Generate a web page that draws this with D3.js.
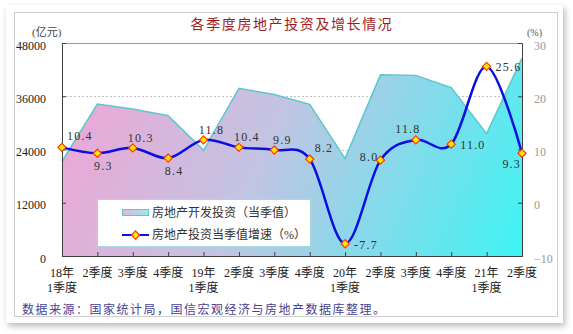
<!DOCTYPE html>
<html><head><meta charset="utf-8">
<script src="https://cdn.jsdelivr.net/npm/d3@7"></script>
<style>
html,body{margin:0;padding:0;background:#ffffff;}
svg{display:block;}
</style></head>
<body>
<svg id="chart" width="573" height="334"></svg>
<script>
// ---- data ----
const categories = [["18年","1季度"],["2季度"],["3季度"],["4季度"],["19年","1季度"],["2季度"],["3季度"],["4季度"],["20年","1季度"],["2季度"],["3季度"],["4季度"],["21年","1季度"],["2季度"]];
const investment = [21292, 34239, 33119, 31614, 23803, 37806, 36399, 34186, 21963, 40817, 40704, 37959, 27576, 44603];
const growth = [10.4, 9.3, 10.3, 8.4, 11.8, 10.4, 9.9, 8.2, -7.7, 8.0, 11.8, 11.0, 25.6, 9.3];
const growthLabels = ["10.4","9.3","10.3","8.4","11.8","10.4","9.9","8.2","-7.7","8.0","11.8","11.0","25.6","9.3"];
const labelPlacement = ["ur","bottom","top","bottom","top","top","top","ur","right","left","topleft","right","right","bottomleft"];
const leftTicks = [0, 12000, 24000, 36000, 48000];
const rightTicks = [-10, 0, 10, 20, 30];
const title = "各季度房地产投资及增长情况";
const leftUnit = "(亿元)";
const rightUnit = "(%)";
const legendNames = ["房地产开发投资（当季值）", "房地产投资当季值增速（%）"];
const source = "数据来源：国家统计局，国信宏观经济与房地产数据库整理。";

// ---- layout ----
const svg = d3.select("#chart");
const L = 62, R = 522, T = 43, B = 256;
const serif = "'Liberation Serif','Noto Sans CJK SC',serif";

const defs = svg.append("defs");
const sh = defs.append("filter").attr("id","shadow").attr("x","-5%").attr("y","-5%").attr("width","110%").attr("height","115%");
sh.append("feDropShadow").attr("dx",2).attr("dy",3).attr("stdDeviation",3).attr("flood-color","#000").attr("flood-opacity",0.28);

const grad = defs.append("linearGradient").attr("id","areaGrad")
  .attr("gradientUnits","userSpaceOnUse").attr("x1",L).attr("y1",T).attr("x2",R).attr("y2",B);
grad.append("stop").attr("offset","0").attr("stop-color","#f4a2d4");
grad.append("stop").attr("offset","0.45").attr("stop-color","#c2c4e2");
grad.append("stop").attr("offset","1").attr("stop-color","#3ef4f4");

const lgGrad = defs.append("linearGradient").attr("id","lgGrad").attr("x1","0").attr("x2","1");
lgGrad.append("stop").attr("offset","0").attr("stop-color","#d8b8dc");
lgGrad.append("stop").attr("offset","1").attr("stop-color","#a0e8ee");

// card
svg.append("rect").attr("x",6).attr("y",5).attr("width",557).attr("height",318)
  .attr("fill","#fff").attr("filter","url(#shadow)");
svg.append("rect").attr("x",14.5).attr("y",12.5).attr("width",543).attr("height",304)
  .attr("fill","none").attr("stroke","#cfcfcf").attr("stroke-width",1);

// scales
const x = d3.scalePoint().domain(d3.range(categories.length)).range([L, R]).padding(0);
const yL = d3.scaleLinear().domain([0, 48000]).range([B, T]);
const yR = d3.scaleLinear().domain([-10, 30]).range([B, T]);

// gridlines
svg.append("g").selectAll("line").data(leftTicks.filter(d => d > 0 && d < 48000)).join("line")
  .attr("x1", L).attr("x2", R).attr("y1", d => Math.round(yL(d)) + 0.5).attr("y2", d => Math.round(yL(d)) + 0.5)
  .attr("stroke","#b0b0b0").attr("stroke-width",0.8).attr("stroke-dasharray","2,2");

// area
const area = d3.area().x((d,i) => x(i)).y0(yL(0)).y1(d => yL(d));
svg.append("path").datum(investment).attr("d", area).attr("fill","url(#areaGrad)");
const topLine = d3.line().x((d,i) => x(i)).y(d => yL(d));
svg.append("path").datum(investment).attr("d", topLine).attr("fill","none")
  .attr("stroke","#5cc8cc").attr("stroke-width",1.5);

// plot frame
svg.append("line").attr("x1",L).attr("x2",R).attr("y1",T+0.5).attr("y2",T+0.5).attr("stroke","#9a9a9a").attr("stroke-width",1);

// axes
const axL = d3.axisLeft(yL).tickValues(leftTicks).tickSize(-4).tickPadding(16).tickFormat(d3.format("d"));
const gL = svg.append("g").attr("transform",`translate(${L},0)`).call(axL);
gL.select(".domain").attr("stroke","#404040");
gL.selectAll(".tick line").attr("stroke","#404040");
gL.selectAll("text").attr("font-family",serif).attr("font-size",12).attr("fill","#222").attr("dy","0.5em");

const axR = d3.axisRight(yR).tickValues(rightTicks).tickSize(-4).tickPadding(12).tickFormat(d3.format("d"));
const gR = svg.append("g").attr("transform",`translate(${R},0)`).call(axR);
gR.select(".domain").attr("stroke","#404040");
gR.selectAll(".tick line").attr("stroke","#404040");
gR.selectAll("text").attr("font-family",serif).attr("font-size",12).attr("fill","#999").attr("dy","0.5em");

const axB = d3.axisBottom(x).tickSize(-4).tickFormat("");
const gB = svg.append("g").attr("transform",`translate(0,${B})`).call(axB);
gB.select(".domain").attr("stroke","#404040");
gB.selectAll(".tick line").attr("stroke","#404040");

// x labels
const xl = svg.append("g").selectAll("text").data(categories).join("text")
  .attr("x",(d,i) => x(i)).attr("y",277).attr("text-anchor","middle")
  .attr("font-family",serif).attr("font-size",12).attr("fill","#222");
xl.each(function(d){
  const t = d3.select(this);
  d.forEach((s,k) => t.append("tspan").attr("x", t.attr("x")).attr("dy", k === 0 ? 0 : 15).text(s));
});

// growth line
const gLine = d3.line().x((d,i) => x(i)).y(d => yR(d)).curve(d3.curveCatmullRom.alpha(0));
svg.append("path").datum(growth).attr("d", gLine).attr("fill","none")
  .attr("stroke","#0a0ee0").attr("stroke-width",2.5);

const diamond = d3.symbol().type(d3.symbolDiamond2).size(42);
svg.append("g").selectAll("path").data(growth).join("path")
  .attr("d", diamond).attr("transform",(d,i) => `translate(${x(i)},${yR(d)})`)
  .attr("fill","#ffee00").attr("stroke","#ff3a00").attr("stroke-width",1.2);

const place = {
  ur: {dx: 5, dy: -7, a: "start"},
  top: {dx: 8, dy: -6, a: "middle"},
  topleft: {dx: -8, dy: -7, a: "middle"},
  bottom: {dx: 6, dy: 17, a: "middle"},
  right: {dx: 9, dy: 5, a: "start"},
  left: {dx: -2, dy: 1, a: "end"},
  bottomleft: {dx: -1, dy: 15, a: "end"}
};
svg.append("g").selectAll("text").data(growth).join("text")
  .attr("x",(d,i) => x(i) + place[labelPlacement[i]].dx)
  .attr("y",(d,i) => yR(d) + place[labelPlacement[i]].dy)
  .attr("text-anchor",(d,i) => place[labelPlacement[i]].a)
  .attr("font-family",serif).attr("font-size",12).attr("letter-spacing",1.2).attr("fill","#333")
  .text((d,i) => growthLabels[i]);

// legend
const lg = svg.append("g");
lg.append("rect").attr("x",97.5).attr("y",199.5).attr("width",213).attr("height",47)
  .attr("fill","#fff").attr("stroke","#a8d8da").attr("stroke-width",1);
lg.append("rect").attr("x",122.5).attr("y",209.5).attr("width",26).attr("height",6)
  .attr("fill","url(#lgGrad)").attr("stroke","#5cc8cc").attr("stroke-width",1);
lg.append("text").attr("x",152).attr("y",213).attr("dy","0.35em").attr("font-family",serif)
  .attr("font-size",12).attr("fill","#333").text(legendNames[0]);
lg.append("line").attr("x1",122).attr("x2",149).attr("y1",235).attr("y2",235).attr("stroke","#0a0ee0").attr("stroke-width",2);
lg.append("path").attr("d",diamond).attr("transform","translate(135.5,235)").attr("fill","#ffee00").attr("stroke","#ff3a00").attr("stroke-width",1.2);
lg.append("text").attr("x",152).attr("y",235).attr("dy","0.35em").attr("font-family",serif)
  .attr("font-size",12).attr("fill","#333").text(legendNames[1]);

// title and units
svg.append("text").attr("x",292).attr("y",29).attr("text-anchor","middle")
  .attr("font-family",serif).attr("font-size",14).attr("letter-spacing",1.6).attr("fill","#a01c1c").text(title);
svg.append("text").attr("x",32).attr("y",36).attr("font-family",serif).attr("font-size",11).attr("fill","#444").text(leftUnit);
svg.append("text").attr("x",527).attr("y",36).attr("font-family",serif).attr("font-size",10).attr("fill","#555").text(rightUnit);

// source
svg.append("text").attr("x",22).attr("y",314).attr("font-family",serif).attr("font-size",12)
  .attr("letter-spacing",1.5).attr("fill","#4a3f94").text(source);
</script>
</body></html>
